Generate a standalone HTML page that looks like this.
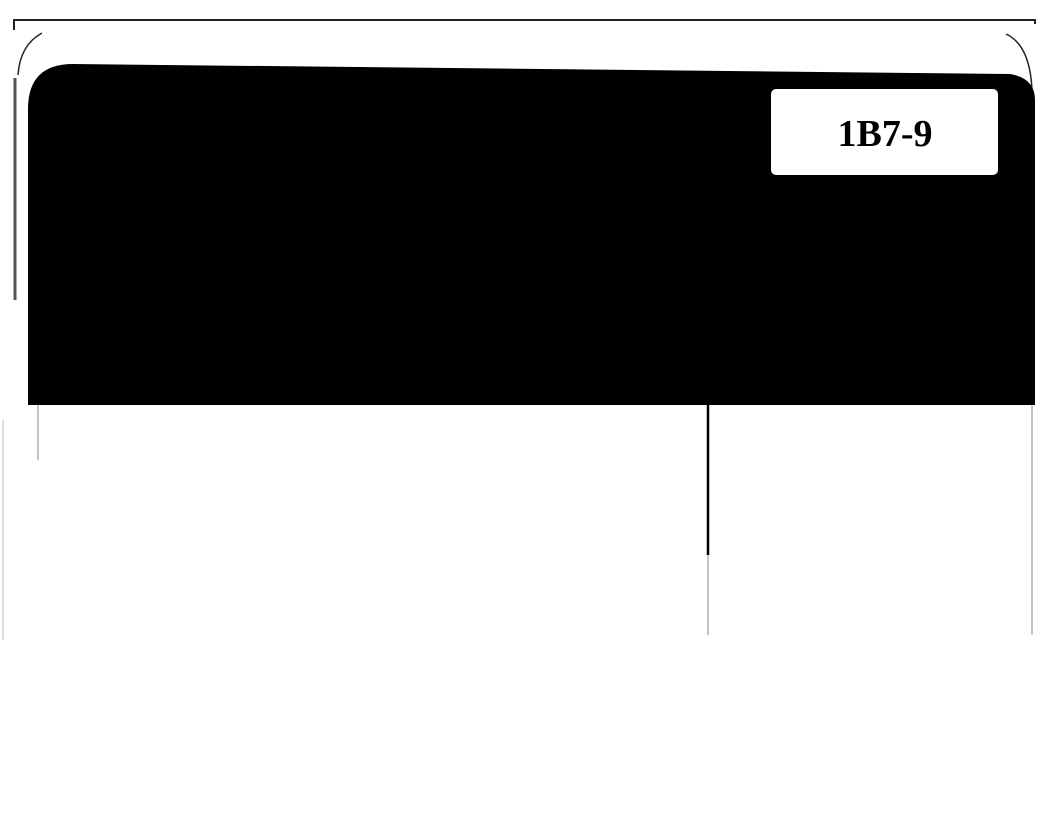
<!DOCTYPE html>
<html><head><style>body{margin:0;background:#fff;width:1057px;height:809px;overflow:hidden}</style></head>
<body>
<svg width="1057" height="809" xmlns="http://www.w3.org/2000/svg">
<path d="M14,30 L14,20 L1035,20 L1035,24" fill="none" stroke="#222" stroke-width="2"/>
<path d="M42,33 Q20,45 18,75" fill="none" stroke="#222" stroke-width="1.5"/>
<path d="M1006,34 Q1030,45 1032,90" fill="none" stroke="#222" stroke-width="1.5"/>
<line x1="15" y1="78" x2="15" y2="300" stroke="#555" stroke-width="3"/>
<path d="M73,64 L1010,74 Q1035,78 1035,100 L1035,405 L28,405 L28,109 Q28,64 73,64 Z" fill="#000"/>
<rect x="771" y="89" width="227" height="86" rx="5" fill="#fff"/>
<text x="885" y="146" text-anchor="middle" font-family="Liberation Serif, serif" font-weight="bold" font-size="38" fill="#000">1B7-9</text>
<line x1="38" y1="405" x2="38" y2="460" stroke="#888" stroke-width="1"/>
<line x1="708" y1="405" x2="708" y2="555" stroke="#000" stroke-width="2.5"/>
<line x1="708" y1="555" x2="708" y2="635" stroke="#888" stroke-width="1"/>
<line x1="1032" y1="405" x2="1032" y2="635" stroke="#888" stroke-width="1"/>
<line x1="3" y1="420" x2="3" y2="640" stroke="#bbb" stroke-width="1"/>
</svg>
</body></html>
